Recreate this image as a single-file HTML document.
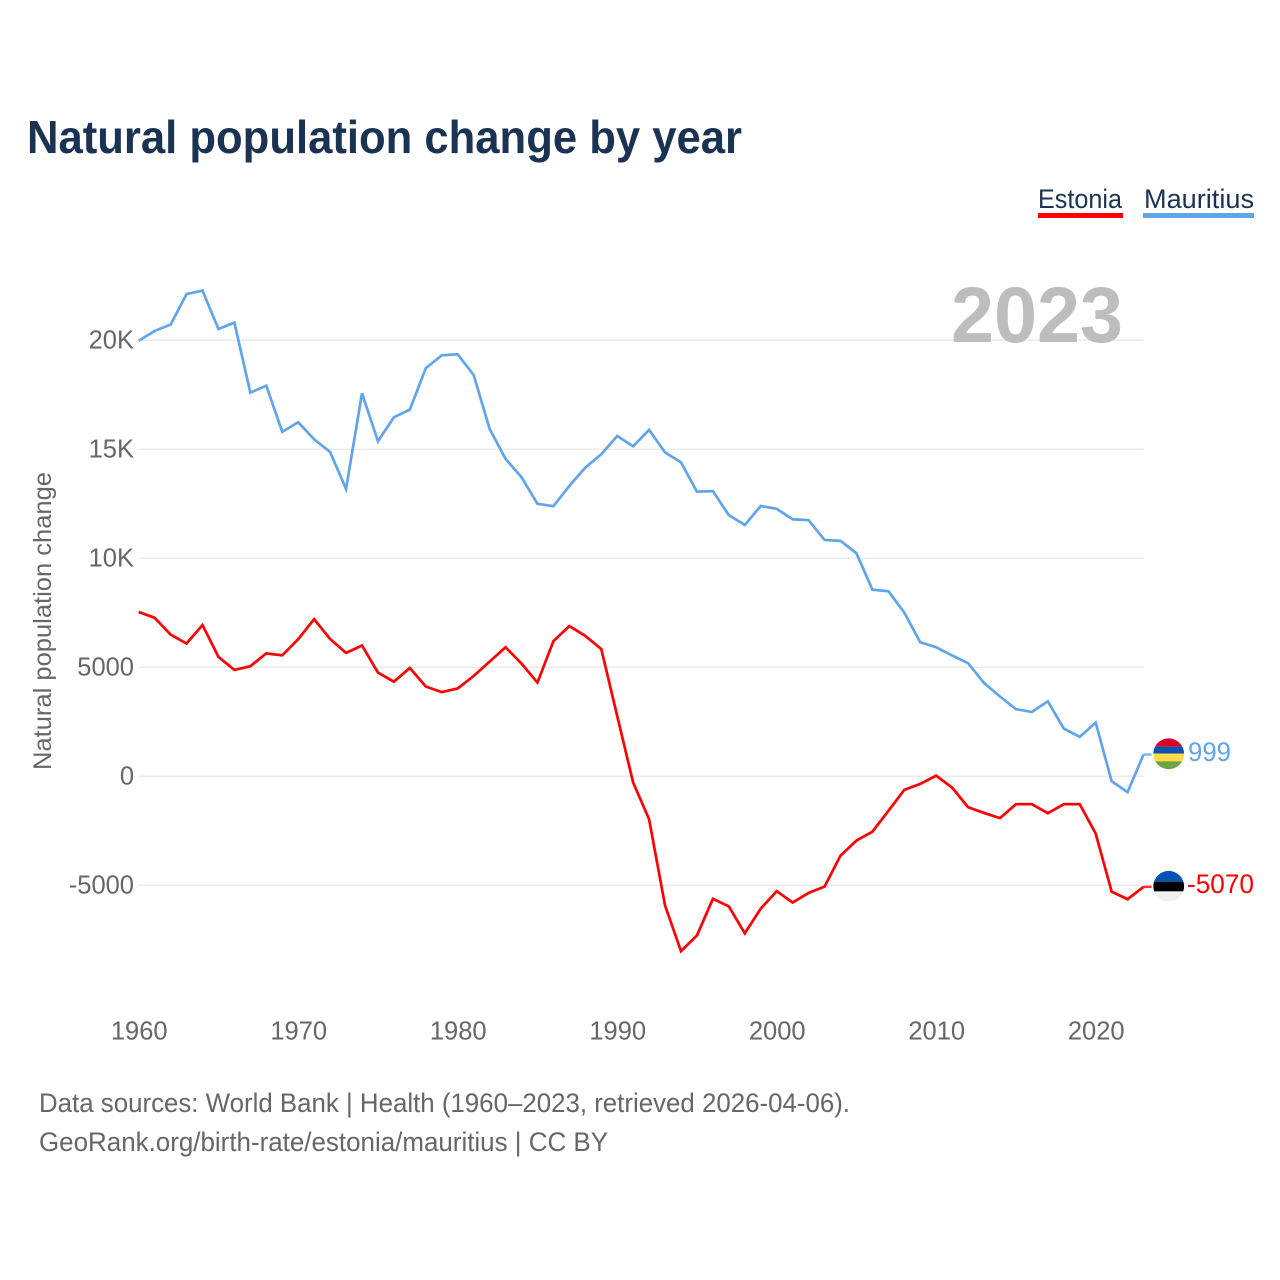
<!DOCTYPE html>
<html lang="en">
<head>
<meta charset="utf-8">
<title>Natural population change by year</title>
<style>
  html, body { margin: 0; padding: 0; background: #fff; }
  svg { display: block; font-family: "Liberation Sans", sans-serif; }
</style>
</head>
<body>
<svg id="chart" xmlns="http://www.w3.org/2000/svg" width="1280" height="1280" viewBox="0 0 1280 1280">
  <defs>
    <clipPath id="flag-clip-mu"><circle cx="1168.7" cy="753.8" r="15.4"/></clipPath>
    <clipPath id="flag-clip-ee"><circle cx="1168.7" cy="886.3" r="15.4"/></clipPath>
  </defs>
  <rect width="1280" height="1280" fill="#fff"/>
  <text x="27" y="153" font-size="46" font-weight="700" fill="#1a3353" textLength="715" lengthAdjust="spacingAndGlyphs">Natural population change by year</text>

  <g>
    <g>
      <text x="1038" y="208" font-size="27" fill="#1a3353" textLength="84" lengthAdjust="spacingAndGlyphs">Estonia</text>
      <rect x="1038" y="213" width="85" height="5" fill="#ff0000"/>
    </g>
    <g>
      <text x="1144" y="208" font-size="27" fill="#1a3353" textLength="110" lengthAdjust="spacingAndGlyphs">Mauritius</text>
      <rect x="1143" y="213" width="111" height="5" fill="#60a5ea"/>
    </g>
  </g>

  <g id="grid"></g>
  <text x="951" y="342" font-size="79" font-weight="700" fill="#bdbdbd" textLength="172" lengthAdjust="spacingAndGlyphs">2023</text>
  <g id="y-axis"></g>
  <g id="x-axis"></g>
  <text transform="translate(51,770) rotate(-90)" font-size="25" fill="#666" textLength="298" lengthAdjust="spacingAndGlyphs">Natural population change</text>
  <g id="series"></g>

  <g clip-path="url(#flag-clip-mu)">
    <rect x="1153" y="738" width="32" height="8.7" fill="#d80027"/>
    <rect x="1153" y="746.7" width="32" height="6.8" fill="#0052b4"/>
    <rect x="1153" y="753.5" width="32" height="7.8" fill="#ffda44"/>
    <rect x="1153" y="761.3" width="32" height="8.5" fill="#6da544"/>
  </g>
  <g clip-path="url(#flag-clip-ee)">
    <rect x="1153" y="870" width="32" height="11.7" fill="#0052b4"/>
    <rect x="1153" y="881.7" width="32" height="9.7" fill="#000"/>
    <rect x="1153" y="891.4" width="32" height="11" fill="#f0f0f0"/>
  </g>
  <text x="1188" y="761" font-size="26.5" fill="#60a5ea" textLength="43" lengthAdjust="spacingAndGlyphs">999</text>
  <text x="1187" y="893" font-size="26.5" fill="#ff0000" textLength="67" lengthAdjust="spacingAndGlyphs">-5070</text>

  <g>
    <text x="39" y="1112" font-size="27" fill="#666" textLength="811" lengthAdjust="spacingAndGlyphs">Data sources: World Bank | Health (1960–2023, retrieved 2026-04-06).</text>
    <text x="39" y="1151" font-size="27" fill="#666" textLength="569" lengthAdjust="spacingAndGlyphs">GeoRank.org/birth-rate/estonia/mauritius | CC BY</text>
  </g>
</svg>
<script>
const startYear = 1960;
const yTickValues = [20000, 15000, 10000, 5000, 0, -5000];
const yTickLabels = ["20K", "15K", "10K", "5000", "0", "-5000"];
const xTickValues = [1960, 1970, 1980, 1990, 2000, 2010, 2020];
const xTickLabels = ["1960", "1970", "1980", "1990", "2000", "2010", "2020"];
const mauritiusValues = [
  19980, 20430, 20720, 22120, 22280, 20520, 20810, 17600, 17920, 15800,
  16240, 15460, 14880, 13180, 17570, 15370, 16470, 16820, 18720, 19310,
  19360, 18410, 15940, 14560, 13720, 12500, 12390, 13320, 14160, 14770,
  15610, 15140, 15890, 14860, 14400, 13060, 13080, 11980, 11530, 12400,
  12270, 11790, 11750, 10840, 10800, 10230, 8560, 8490, 7510, 6150,
  5920, 5540, 5190, 4280, 3660, 3080, 2950, 3440, 2190, 1810,
  2460, -225, -730, 999
];
const estoniaValues = [
  7540, 7270, 6500, 6090, 6940, 5480, 4880, 5050, 5640, 5550,
  6290, 7210, 6300, 5660, 6000, 4760, 4340, 4970, 4120, 3860,
  4030, 4600, 5260, 5920, 5170, 4300, 6200, 6890, 6440, 5840,
  2770, -290, -1970, -5930, -8020, -7300, -5620, -5970, -7200, -6070,
  -5270, -5790, -5350, -5060, -3640, -2950, -2540, -1590, -620, -350,
  30, -520, -1420, -1680, -1920, -1280, -1280, -1690, -1280, -1280,
  -2630, -5290, -5640, -5070
];

const NS = "http://www.w3.org/2000/svg";
const xScale = function (year) { return 138.7 + (year - 1960) * 15.95; };
const yScale = function (value) { return 776.3 - value * 0.0218; };
const plotRight = xScale(2023);

function make(tag, attrs, parent) {
  const el = document.createElementNS(NS, tag);
  Object.keys(attrs).forEach(function (k) { el.setAttribute(k, attrs[k]); });
  parent.appendChild(el);
  return el;
}

const gridGroup = document.getElementById("grid");
const yGroup = document.getElementById("y-axis");
yTickValues.forEach(function (v, i) {
  const y = yScale(v);
  const line = make("line", { x1: xScale(1960), x2: plotRight, y1: y, y2: y, stroke: "#ebebeb", "stroke-width": 1.5 }, gridGroup);
  
  
  const label = make("text", { x: 134, y: y + 8.2, "text-anchor": "end", "font-size": 25.5, fill: "#666" }, yGroup);
  label.textContent = yTickLabels[i];
  
  
});

const xGroup = document.getElementById("x-axis");
xTickValues.forEach(function (year, i) {
  const label = make("text", { x: xScale(year) + 0.5, y: 1039.5, "text-anchor": "middle", "font-size": 25.5, fill: "#666" }, xGroup);
  label.textContent = xTickLabels[i];
  
  
});

function pointsFor(values) {
  return values.map(function (v, i) {
    return xScale(startYear + i).toFixed(2) + "," + yScale(v).toFixed(2);
  }).join(" ");
}

const seriesGroup = document.getElementById("series");

function drawSeries(values, color) {
  const last = yScale(values[values.length - 1]);
  const stub = make("line", { x1: plotRight, x2: plotRight + 8, y1: last, y2: last, stroke: color, "stroke-width": 2.5, "stroke-opacity": 0.8 }, seriesGroup);
  const line = make("polyline", { points: pointsFor(values), fill: "none", stroke: color, "stroke-width": 2.7, "stroke-linejoin": "miter" }, seriesGroup);
  return { stub: stub, line: line };
}

const estoniaMarks = drawSeries(estoniaValues, "#ff0000");





const mauritiusMarks = drawSeries(mauritiusValues, "#60a5ea");




</script>
</body>
</html>
